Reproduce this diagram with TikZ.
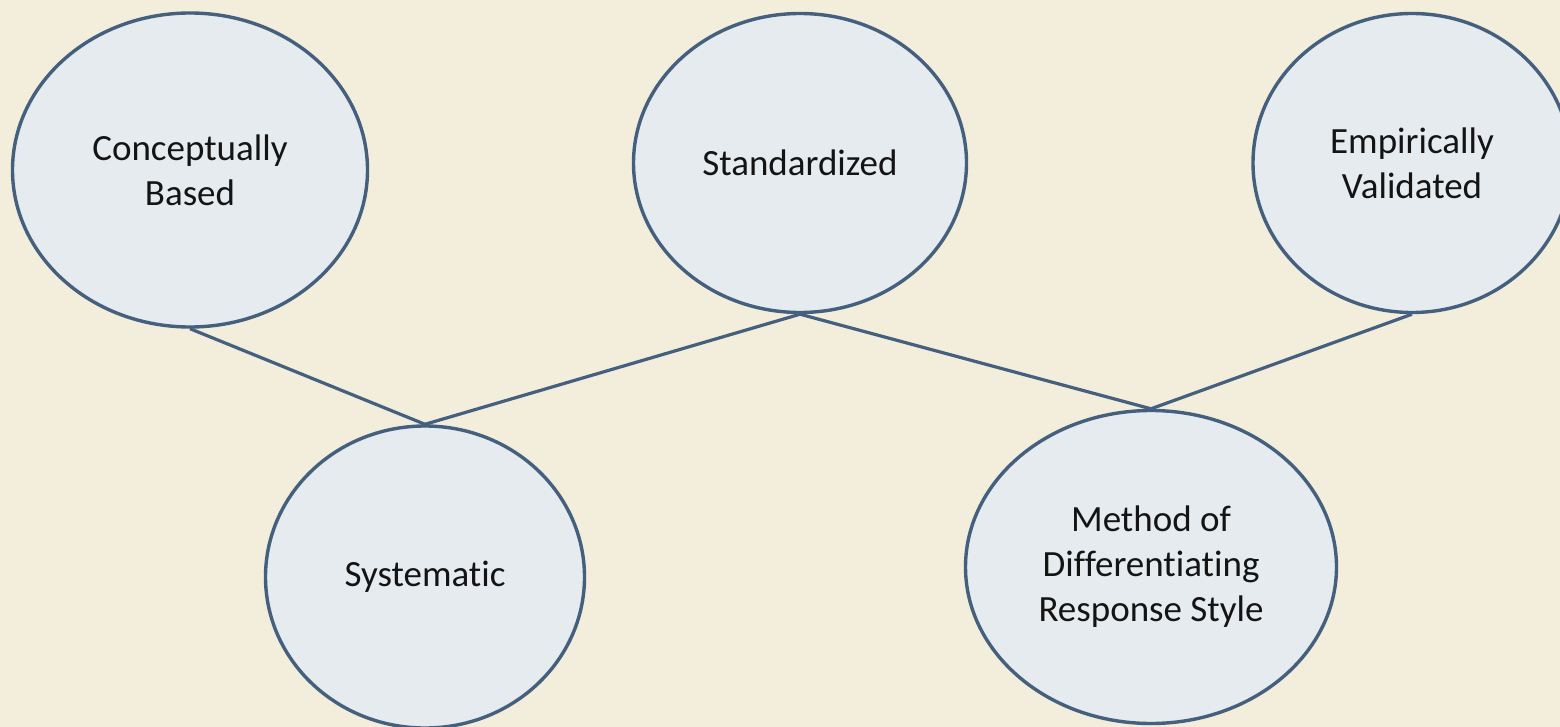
\documentclass[tikz,border=0pt]{standalone}
\usepackage{fontspec}
\setmainfont{Carlito}[Ligatures={NoCommon}]
\usetikzlibrary{shapes.geometric}
\definecolor{bgc}{HTML}{F3EDDB}
\definecolor{fillc}{HTML}{E6EBEF}
\definecolor{edgec}{HTML}{44607E}
\tikzset{
  bubble/.style={ellipse, draw=edgec, fill=fillc, line width=3.4pt, inner sep=0pt,
    align=center, text=black!92, font=\fontsize{37}{45}\selectfont},
  link/.style={draw=edgec, line width=3.2pt}
}
\begin{document}
\begin{tikzpicture}[x=1pt,y=-1pt]
\useasboundingbox (0,0) rectangle (1560,727);
\clip (0,0) rectangle (1560,727);
\fill[bgc] (0,0) rectangle (1560,727);
\node[bubble, minimum width=355pt, minimum height=314pt] (cb) at (190,170) {Conceptually\\Based};
\node[bubble, minimum width=333pt, minimum height=299pt] (st) at (800,163) {Standardized};
\node[bubble, minimum width=318pt, minimum height=299pt] (ev) at (1412,163) {Empirically\\Validated};
\node[bubble, minimum width=319pt, minimum height=302pt] (sy) at (425,577) {Systematic};
\node[bubble, minimum width=371pt, minimum height=313pt] (md) at (1151,567) {Method of\\Differentiating\\Response Style};
\draw[link] (cb.south) -- (sy.north);
\draw[link] (sy.north) -- (st.south);
\draw[link] (st.south) -- (md.north);
\draw[link] (md.north) -- (ev.south);
\end{tikzpicture}
\end{document}
